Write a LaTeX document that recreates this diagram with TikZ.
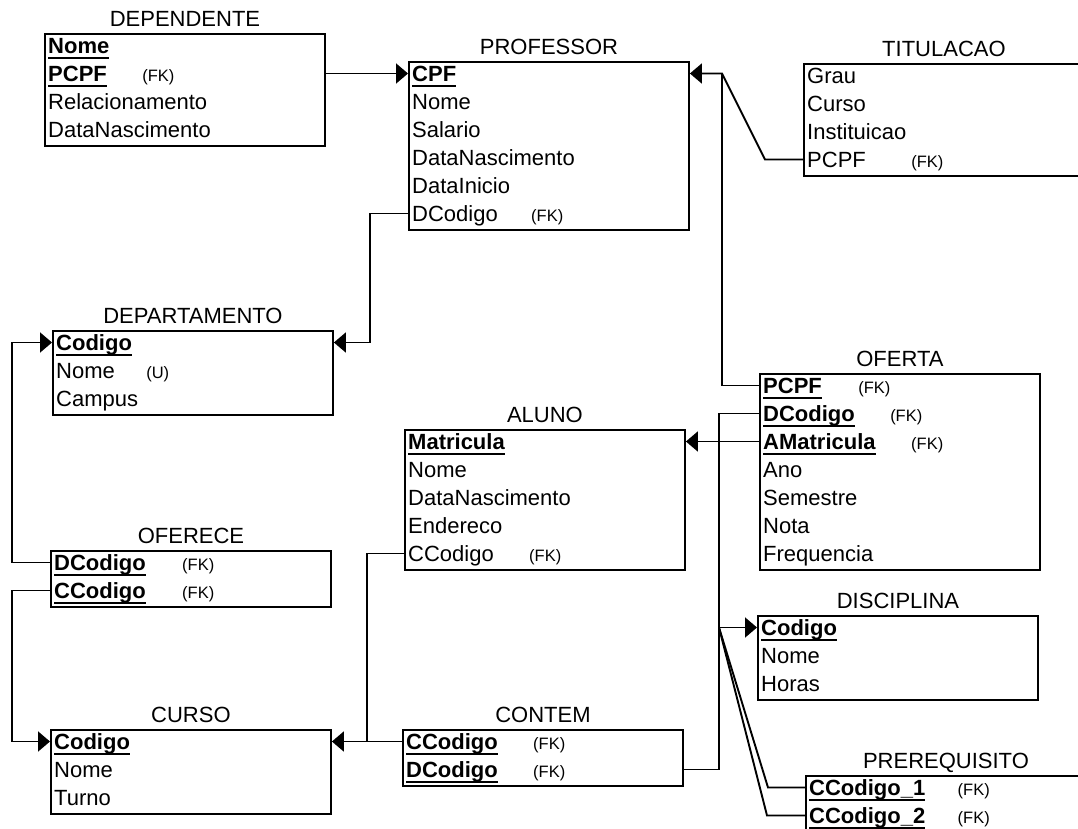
\documentclass[tikz,border=0pt]{standalone}
\usepackage{fontspec}
\setmainfont{Liberation Sans}
\usetikzlibrary{arrows.meta,positioning}
\newsavebox\pkbox
\newcommand{\pk}[1]{\sbox\pkbox{\textbf{#1}}\rlap{\rule[-5.5pt]{\wd\pkbox}{1.9pt}}\usebox\pkbox}
\tikzset{
  tbl/.style={draw, line width=1.9pt, minimum width=280pt, inner sep=0pt, anchor=north west},
  ttl/.style={font=\fontsize{22}{26}\selectfont, inner sep=0pt, text depth=0pt, anchor=south, yshift=6pt},
  row/.style={font=\fontsize{22}{26}\selectfont, anchor=west, inner xsep=4pt, inner ysep=0pt, text height=15.6pt, text depth=0pt},
  fk/.style={font=\fontsize{16.5}{18}\selectfont, inner sep=0pt, anchor=base west},
  rel/.style={line width=1.9pt},
  ref/.style={rel, -{Triangle[length=12pt,width=20pt]}},
}
\begin{document}
\begin{tikzpicture}[x=1pt, y=-1pt]
  \useasboundingbox (0,0) rectangle (1078,829);
  % DEPENDENTE
  \node[tbl, minimum height=112pt] (dep) at (44,33) {};
  \node[ttl] (dep-t) at (dep.north) {DEPENDENTE};
  \node[row] (dep-1) at (44,45.5) {\pk{Nome}};
  \node[row] (dep-2) at (44,73.5) {\pk{PCPF}};
  \node[row] (dep-3) at (44,101.5) {Relacionamento};
  \node[row] (dep-4) at (44,129.5) {DataNascimento};
  \node[fk] (dep-2k) at ([xshift=31pt]dep-2.base east) {(FK)};
  % PROFESSOR
  \node[tbl, minimum height=168pt] (prof) at (408,61) {};
  \node[ttl] (prof-t) at (prof.north) {PROFESSOR};
  \node[row] (prof-1) at (408,73.5) {\pk{CPF}};
  \node[row] (prof-2) at (408,101.5) {Nome};
  \node[row] (prof-3) at (408,129.5) {Salario};
  \node[row] (prof-4) at (408,157.5) {DataNascimento};
  \node[row] (prof-5) at (408,185.5) {DataInicio};
  \node[row] (prof-6) at (408,213.5) {DCodigo};
  \node[fk] (prof-6k) at ([xshift=29pt]prof-6.base east) {(FK)};
  % TITULACAO
  \node[tbl, minimum height=112pt] (tit) at (803,63) {};
  \node[ttl] (tit-t) at (tit.north) {TITULACAO};
  \node[row] (tit-1) at (803,75.5) {Grau};
  \node[row] (tit-2) at (803,103.5) {Curso};
  \node[row] (tit-3) at (803,131.5) {Instituicao};
  \node[row] (tit-4) at (803,159.5) {PCPF};
  \node[fk] (tit-4k) at ([xshift=41pt]tit-4.base east) {(FK)};
  % DEPARTAMENTO
  \node[tbl, minimum height=84pt] (depto) at (52,330) {};
  \node[ttl] (depto-t) at (depto.north) {DEPARTAMENTO};
  \node[row] (depto-1) at (52,342.5) {\pk{Codigo}};
  \node[row] (depto-2) at (52,370.5) {Nome};
  \node[row] (depto-3) at (52,398.5) {Campus};
  \node[fk] (depto-2k) at ([xshift=27pt]depto-2.base east) {(U)};
  % OFERECE
  \node[tbl, minimum height=56pt] (oferece) at (50,550) {};
  \node[ttl] (oferece-t) at (oferece.north) {OFERECE};
  \node[row] (oferece-1) at (50,562.5) {\pk{DCodigo}};
  \node[row] (oferece-2) at (50,590.5) {\pk{CCodigo}};
  \node[fk] (oferece-1k) at ([xshift=32pt]oferece-1.base east) {(FK)};
  \node[fk] (oferece-2k) at ([xshift=32pt]oferece-2.base east) {(FK)};
  % CURSO
  \node[tbl, minimum height=84pt] (curso) at (50,729) {};
  \node[ttl] (curso-t) at (curso.north) {CURSO};
  \node[row] (curso-1) at (50,741.5) {\pk{Codigo}};
  \node[row] (curso-2) at (50,769.5) {Nome};
  \node[row] (curso-3) at (50,797.5) {Turno};
  % ALUNO
  \node[tbl, minimum height=140pt] (aluno) at (404,429) {};
  \node[ttl] (aluno-t) at (aluno.north) {ALUNO};
  \node[row] (aluno-1) at (404,441.5) {\pk{Matricula}};
  \node[row] (aluno-2) at (404,469.5) {Nome};
  \node[row] (aluno-3) at (404,497.5) {DataNascimento};
  \node[row] (aluno-4) at (404,525.5) {Endereco};
  \node[row] (aluno-5) at (404,553.5) {CCodigo};
  \node[fk] (aluno-5k) at ([xshift=31pt]aluno-5.base east) {(FK)};
  % CONTEM
  \node[tbl, minimum height=56pt] (contem) at (402,729) {};
  \node[ttl] (contem-t) at (contem.north) {CONTEM};
  \node[row] (contem-1) at (402,741.5) {\pk{CCodigo}};
  \node[row] (contem-2) at (402,769.5) {\pk{DCodigo}};
  \node[fk] (contem-1k) at ([xshift=31pt]contem-1.base east) {(FK)};
  \node[fk] (contem-2k) at ([xshift=31pt]contem-2.base east) {(FK)};
  % OFERTA
  \node[tbl, minimum height=196pt] (ofe) at (759,373) {};
  \node[ttl] (ofe-t) at (ofe.north) {OFERTA};
  \node[row] (ofe-1) at (759,385.5) {\pk{PCPF}};
  \node[row] (ofe-2) at (759,413.5) {\pk{DCodigo}};
  \node[row] (ofe-3) at (759,441.5) {\pk{AMatricula}};
  \node[row] (ofe-4) at (759,469.5) {Ano};
  \node[row] (ofe-5) at (759,497.5) {Semestre};
  \node[row] (ofe-6) at (759,525.5) {Nota};
  \node[row] (ofe-7) at (759,553.5) {Frequencia};
  \node[fk] (ofe-1k) at ([xshift=32pt]ofe-1.base east) {(FK)};
  \node[fk] (ofe-2k) at ([xshift=31pt]ofe-2.base east) {(FK)};
  \node[fk] (ofe-3k) at ([xshift=31pt]ofe-3.base east) {(FK)};
  % DISCIPLINA
  \node[tbl, minimum height=84pt] (disc) at (757,615) {};
  \node[ttl] (disc-t) at (disc.north) {DISCIPLINA};
  \node[row] (disc-1) at (757,627.5) {\pk{Codigo}};
  \node[row] (disc-2) at (757,655.5) {Nome};
  \node[row] (disc-3) at (757,683.5) {Horas};
  % PREREQUISITO
  \node[tbl, minimum height=60pt] (pre) at (805,775) {};
  \node[ttl] (pre-t) at (pre.north) {PREREQUISITO};
  \node[row] (pre-1) at (805,787.5) {\pk{CCodigo\_1}};
  \node[row] (pre-2) at (805,815.5) {\pk{CCodigo\_2}};
  \node[fk] (pre-1k) at ([xshift=28pt]pre-1.base east) {(FK)};
  \node[fk] (pre-2k) at ([xshift=28pt]pre-2.base east) {(FK)};
  % relationships
  \coordinate (pj) at (722,73.5);
  \coordinate (dj) at (719,627.5);
  \draw[ref] (dep.east |- dep-2) -- (prof-1.west);
  \draw[ref] (tit-4.west) -- ++(-38,0) -- (pj) -- (prof.east |- prof-1);
  \draw[rel] (ofe-1.west) -| (pj);
  \draw[ref] (ofe-3.west) -- (aluno.east |- aluno-1);
  \draw[ref] (prof-6.west) -- ++(-38,0) |- (depto.east |- depto-1);
  \draw[ref] (oferece-1.west) -- ++(-38,0) |- (depto-1.west);
  \draw[ref] (oferece-2.west) -- ++(-38,0) |- (curso-1.west);
  \draw[ref] (aluno-5.west) -- ++(-37,0) |- (curso.east |- curso-1);
  \draw[rel] (contem-1.west) -- ++(-36,0);
  \draw[ref] (contem.east |- contem-2) -| (dj) -- (disc-1.west);
  \draw[rel] (ofe-2.west) -| (dj);
  \draw[rel] (pre-1.west) -- ++(-37,0) -- (dj);
  \draw[rel] (pre-2.west) -- ++(-38,0) -- (dj);
\end{tikzpicture}
\end{document}
